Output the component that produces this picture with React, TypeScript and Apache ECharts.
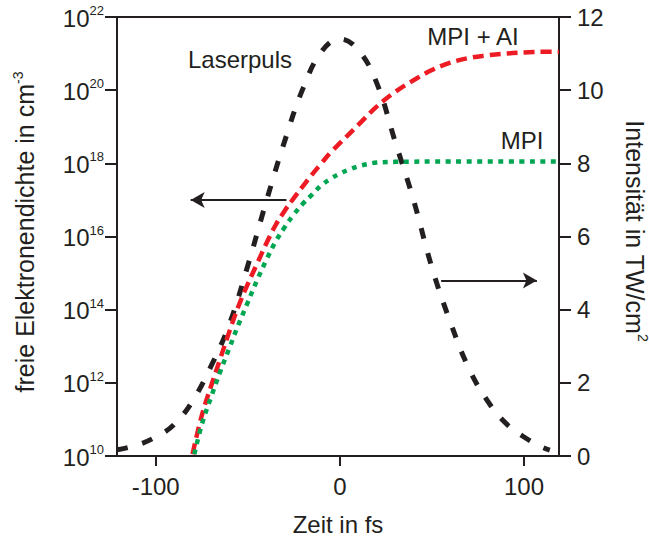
import React, { useEffect, useRef } from "react";
import * as echarts from "echarts";

// Laser pulse intensity (right axis, TW/cm²)
const laserTime = [-121, -110, -100, -90, -80, -70, -60, -50, -40, -30, -20, -10, 0, 10, 20, 30, 40, 50, 60, 70, 80, 90, 100, 110, 114];
const laserIntensity = [0.17, 0.3, 0.52, 0.86, 1.5, 2.45, 3.6, 5.2, 6.95, 8.6, 10.05, 11.05, 11.4, 11.1, 10.2, 8.6, 7.0, 5.15, 3.66, 2.4, 1.52, 0.9, 0.52, 0.24, 0.16];

// MPI + AI free electron density, exponent of 10 (cm^-3), left axis
const mpiAiTime = [-80, -75, -70, -65, -60, -55, -50, -45, -40, -35, -30, -25, -20, -15, -10, -5, 0, 10, 20, 30, 40, 50, 60, 70, 80, 90, 100, 110, 119];
const mpiAiExp = [10.05, 11.1, 11.9, 12.65, 13.4, 14.1, 14.7, 15.25, 15.8, 16.3, 16.7, 17.05, 17.38, 17.7, 18.0, 18.3, 18.55, 19.05, 19.55, 19.95, 20.27, 20.55, 20.75, 20.88, 20.95, 21.0, 21.03, 21.05, 21.05];

// MPI free electron density, exponent of 10 (cm^-3), left axis
const mpiTime = [-79, -75, -70, -65, -60, -55, -50, -45, -40, -35, -30, -25, -20, -15, -10, -5, 0, 5, 10, 15, 20, 30, 60, 119];
const mpiExp = [10.05, 10.85, 11.6, 12.3, 12.95, 13.6, 14.2, 14.8, 15.35, 15.85, 16.25, 16.6, 16.9, 17.15, 17.4, 17.58, 17.72, 17.83, 17.92, 17.98, 18.02, 18.04, 18.05, 18.05];

// Axis ticks
const xTicks = [-100, 0, 100];

const INK = "#231f20";
const FONT = "'Liberation Sans', Arial, Helvetica, sans-serif";

export default function App() {
  const ref = useRef<HTMLDivElement>(null);
  useEffect(() => {
    document.body.style.margin = "0";
    const chart = echarts.init(ref.current!, null, { renderer: "svg" });
    const supRich = {
      b: { fontSize: 24, color: INK, fontFamily: FONT, lineHeight: 26, verticalAlign: "bottom" },
      s: { fontSize: 13, color: INK, fontFamily: FONT, lineHeight: 13, verticalAlign: "top" },
    };
    const nameRich = {
      a: { fontSize: 25, fontFamily: FONT, fill: INK, lineHeight: 27, verticalAlign: "bottom" },
      s: { fontSize: 14, fontFamily: FONT, fill: INK, lineHeight: 14, verticalAlign: "top" },
    };
    const option: any = {
      animation: false,
      backgroundColor: "#ffffff",
      textStyle: { fontFamily: FONT, color: INK },
      grid: {
        left: 117,
        right: 90,
        top: 17,
        bottom: 82,
        show: true,
        borderColor: INK,
        borderWidth: 2,
        backgroundColor: "transparent",
      },
      xAxis: {
        type: "value",
        min: -121,
        max: 119,
        splitLine: { show: false },
        axisLine: { show: true, onZero: false, lineStyle: { color: INK, width: 2 } },
        axisTick: { show: true, length: 10, customValues: xTicks, lineStyle: { color: INK, width: 2 } },
        axisLabel: { customValues: xTicks, fontSize: 24, color: INK, fontFamily: FONT, margin: 18 },
        name: "Zeit in fs",
        nameLocation: "middle",
        nameGap: 56,
        nameTextStyle: { fontSize: 24, color: INK, fontFamily: FONT },
      },
      yAxis: [
        {
          type: "value",
          min: 10,
          max: 22,
          interval: 2,
          position: "left",
          splitLine: { show: false },
          axisLine: { show: true, onZero: false, lineStyle: { color: INK, width: 2 } },
          axisTick: { show: true, length: 12, lineStyle: { color: INK, width: 2 } },
          axisLabel: {
            margin: 13,
            formatter: (v: number) => "{b|10}{s|" + v + "}",
            rich: supRich,
          },
        },
        {
          type: "value",
          min: 0,
          max: 12,
          interval: 2,
          position: "right",
          splitLine: { show: false },
          axisLine: { show: true, onZero: false, lineStyle: { color: INK, width: 2 } },
          axisTick: { show: true, length: 12, lineStyle: { color: INK, width: 2 } },
          axisLabel: { fontSize: 24, color: INK, fontFamily: FONT, margin: 18 },
        },
      ],
      series: [
        {
          type: "line",
          name: "Laserpuls",
          yAxisIndex: 1,
          data: laserTime.map((t, i) => [t, laserIntensity[i]]),
          smooth: 0.4,
          showSymbol: false,
          z: 2,
          lineStyle: { color: INK, width: 5, type: [11, 15], cap: "butt" },
          markLine: {
            silent: true,
            symbol: ["none", "arrow"],
            symbolSize: [12, 14],
            label: { show: false },
            lineStyle: { color: INK, width: 2, type: "solid" },
            data: [[{ coord: [55, 4.8] }, { coord: [107, 4.8] }]],
          },
        },
        {
          type: "line",
          name: "MPI + AI",
          yAxisIndex: 0,
          data: mpiAiTime.map((t, i) => [t, mpiAiExp[i]]),
          smooth: 0.4,
          showSymbol: false,
          z: 3,
          lineStyle: { color: "#ed1c24", width: 4.5, type: [11, 6], cap: "butt" },
          markLine: {
            silent: true,
            symbol: ["none", "arrow"],
            symbolSize: [12, 14],
            label: { show: false },
            lineStyle: { color: INK, width: 2, type: "solid" },
            data: [[{ coord: [-29, 17] }, { coord: [-81, 17] }]],
          },
        },
        {
          type: "line",
          name: "MPI",
          yAxisIndex: 0,
          data: mpiTime.map((t, i) => [t, mpiExp[i]]),
          smooth: 0.4,
          showSymbol: false,
          z: 4,
          lineStyle: { color: "#00a651", width: 4.5, type: [5, 5.5], cap: "butt" },
        },
      ],
      graphic: [
        {
          type: "text",
          x: 24,
          y: 232,
          rotation: Math.PI / 2,
          style: {
            text: "{a|freie Elektronendichte in cm}{s|-3}",
            align: "center",
            verticalAlign: "middle",
            rich: nameRich,
          },
        },
        {
          type: "text",
          x: 636,
          y: 231,
          rotation: -Math.PI / 2,
          style: {
            text: "{a|Intensität in TW/cm}{s|2}",
            align: "center",
            verticalAlign: "middle",
            rich: nameRich,
          },
        },
        {
          type: "text",
          x: 240,
          y: 59,
          style: { text: "Laserpuls", fontSize: 24, fontFamily: FONT, fill: INK, align: "center", verticalAlign: "middle" },
        },
        {
          type: "text",
          x: 473,
          y: 36,
          style: { text: "MPI + AI", fontSize: 24, fontFamily: FONT, fill: INK, align: "center", verticalAlign: "middle" },
        },
        {
          type: "text",
          x: 522,
          y: 140,
          style: { text: "MPI", fontSize: 24, fontFamily: FONT, fill: INK, align: "center", verticalAlign: "middle" },
        },
      ],
    };
    chart.setOption(option);
    return () => chart.dispose();
  }, []);
  return <div ref={ref} style={{ position: "fixed", left: 0, top: 0, width: 649, height: 541 }} />;
}
